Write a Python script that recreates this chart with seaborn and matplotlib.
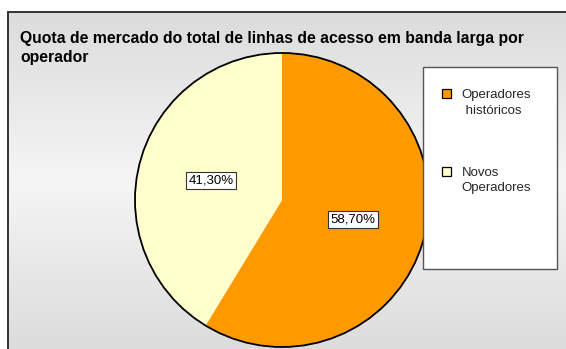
import numpy as np
import matplotlib
matplotlib.use("Agg")
import matplotlib.pyplot as plt
import seaborn as sns
from matplotlib.patches import Rectangle, Circle, Patch
from matplotlib.lines import Line2D
from matplotlib.legend_handler import HandlerPatch

# ---- data ----
categories = ["Operadores\n históricos", "Novos\nOperadores"]
shares = [58.70, 41.30]
colors = ["#FF9900", "#FFFFCC"]
title = "Quota de mercado do total de linhas de acesso em banda larga por\noperador"

sns.set_theme(style="white")
plt.rcParams['font.family'] = ['Liberation Sans', 'DejaVu Sans']

W, H = 566, 349
fig = plt.figure(figsize=(W / 100, H / 100), dpi=100)
fig.patch.set_facecolor('white')

# background panel with vertical gradient
bg = fig.add_axes([8 / W, 0, 1 - 8 / W, 1 - 12 / H])
t = np.linspace(0, 1, 256)
g = (0xf5 - (0xf5 - 0xdc) * np.abs(t - 0.5) * 2) / 255.0
img = np.stack([g, g, g], axis=-1)[:, None, :]
bg.imshow(img, aspect='auto', extent=[0, 1, 0, 1], origin='lower')
bg.set_axis_off()
fig.add_artist(Line2D([8 / W, 8 / W], [0, 1 - 12 / H], transform=fig.transFigure,
                      color='#333333', lw=1.4))
fig.add_artist(Line2D([8 / W, 1], [1 - 12 / H, 1 - 12 / H], transform=fig.transFigure,
                      color='#333333', lw=1.4))

# title (one text per line for exact baselines)
for line, base in zip(title.split("\n"), [43, 62]):
    fig.text(20 / W, 1 - base / H, line, fontsize=11.3, weight='bold', va='baseline',
             ha='left', color='black')

# pie
cx, cy, r = 282, 200, 147
ax = fig.add_axes([(cx - r) / W, (H - cy - r) / H, 2 * r / W, 2 * r / H])
ax.patch.set_alpha(0)
wedges, texts, autotexts = ax.pie(
    shares, colors=colors, startangle=90, counterclock=False,
    autopct=lambda p: f"{p:.2f}%".replace('.', ','), pctdistance=0.5,
    wedgeprops=dict(linewidth=0), textprops=dict(fontsize=9.5, color='black'))
ax.add_patch(Circle((0, 0), 1, fill=False, ec='black', lw=1.3, clip_on=False))
ax.set_xlim(-1, 1)
ax.set_ylim(-1, 1)
for w in wedges:
    w.set_clip_on(False)
for at in autotexts:
    at.set_bbox(dict(boxstyle='square,pad=0.2', fc='white', ec='#333333', lw=0.8))

# legend box
fig.add_artist(Rectangle((423 / W, 1 - 269 / H), (557 - 423) / W, (269 - 67) / H,
                         transform=fig.transFigure, fc='white', ec='#555555', lw=1.0,
                         zorder=5))


class TopPatchHandler(HandlerPatch):
    def create_artists(self, legend, orig_handle, xdescent, ydescent, width, height,
                       fontsize, trans):
        shift = 0.68 * fontsize
        p = Rectangle((-xdescent, -ydescent + shift), width, height)
        self.update_prop(p, orig_handle, legend)
        p.set_transform(trans)
        return [p]


handles = [Patch(fc=c, ec='black', lw=0.9) for c in colors]
leg = fig.legend(handles, categories, loc='upper left', bbox_to_anchor=(442 / W, 1 - 89 / H),
                 frameon=False, fontsize=9.5, handlelength=0.65, handleheight=0.65,
                 handletextpad=0.85, labelspacing=3.8, borderpad=0, borderaxespad=0,
                 handler_map={Patch: TopPatchHandler()})
for tx in leg.get_texts():
    tx.set_linespacing(1.4)
leg.set_zorder(6)

fig.savefig("out.png", dpi=100)
